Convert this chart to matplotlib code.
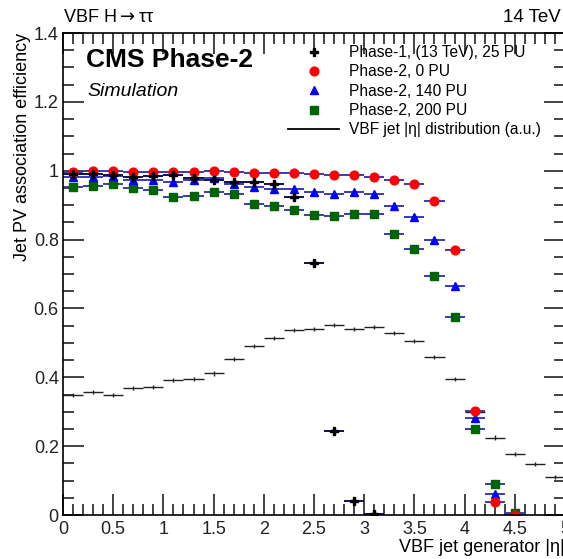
import numpy as np
import matplotlib
matplotlib.use('Agg')
import matplotlib.pyplot as plt
from matplotlib.lines import Line2D
from matplotlib.ticker import MultipleLocator

plt.rcParams['font.family'] = ['Liberation Sans', 'DejaVu Sans']
plt.rcParams['mathtext.fontset'] = 'dejavusans'

# bin centres in |eta| (bin width 0.2)
eta_p1 = [0.1, 0.3, 0.5, 0.7, 0.9, 1.1, 1.3, 1.5, 1.7, 1.9, 2.1, 2.3, 2.5, 2.7, 2.9, 3.1]
eff_p1 = [0.990, 0.990, 0.989, 0.982, 0.984, 0.987, 0.979, 0.974, 0.968, 0.968, 0.962, 0.925,
          0.732, 0.245, 0.041, 0.002]

eta_p2 = [0.1, 0.3, 0.5, 0.7, 0.9, 1.1, 1.3, 1.5, 1.7, 1.9, 2.1, 2.3, 2.5, 2.7, 2.9, 3.1,
          3.3, 3.5, 3.7, 3.9, 4.1, 4.3, 4.5]
eff_0pu = [0.995, 1.000, 1.000, 0.995, 0.995, 0.995, 0.996, 0.998, 0.995, 0.993, 0.993, 0.993,
           0.991, 0.988, 0.988, 0.983, 0.974, 0.960, 0.911, 0.770, 0.302, 0.038, 0.0]
eff_140pu = [0.982, 0.983, 0.985, 0.974, 0.974, 0.968, 0.974, 0.980, 0.960, 0.953, 0.947, 0.948,
             0.937, 0.933, 0.937, 0.933, 0.898, 0.867, 0.799, 0.666, 0.281, 0.060, 0.0]
eff_200pu = [0.954, 0.956, 0.960, 0.951, 0.943, 0.925, 0.927, 0.937, 0.933, 0.902, 0.898, 0.887,
             0.872, 0.869, 0.875, 0.875, 0.817, 0.773, 0.693, 0.575, 0.251, 0.089, 0.005]

eta_dist = [0.1, 0.3, 0.5, 0.7, 0.9, 1.1, 1.3, 1.5, 1.7, 1.9, 2.1, 2.3, 2.5, 2.7, 2.9, 3.1,
            3.3, 3.5, 3.7, 3.9, 4.1, 4.3, 4.5, 4.7, 4.9]
dist = [0.349, 0.357, 0.349, 0.369, 0.373, 0.392, 0.395, 0.411, 0.453, 0.490, 0.514, 0.537,
        0.540, 0.552, 0.540, 0.547, 0.528, 0.505, 0.460, 0.395, 0.298, 0.225, 0.178, 0.147, 0.111]

BAR_BLUE = '#3a3ab4'
MS = 6.3

fig = plt.figure(figsize=(5.63, 5.59), dpi=100)
ax = fig.add_axes([63 / 563, 44 / 559, 502 / 563, 482 / 559])

# distribution histogram
ax.errorbar(eta_dist, dist, xerr=0.1, yerr=0.006, fmt='none', ecolor='#222222', elinewidth=1.0)

ax.errorbar(eta_p2, eff_200pu, xerr=0.1, yerr=0.008, fmt='s', color='#006400', ms=MS,
            ecolor=BAR_BLUE, elinewidth=1.4)
ax.errorbar(eta_p2, eff_140pu, xerr=0.1, yerr=0.008, fmt='^', color='#0000ff', ms=MS,
            ecolor=BAR_BLUE, elinewidth=1.4)
ax.errorbar(eta_p2, eff_0pu, xerr=0.1, yerr=0.006, fmt='o', color='#ff0000', ms=MS,
            ecolor=BAR_BLUE, elinewidth=1.4)
ax.errorbar(eta_p1, eff_p1, xerr=0.1, yerr=0.008, fmt='P', color='black', ms=5.5,
            ecolor='#101050', elinewidth=1.4)

ax.set_xlim(0, 5)
ax.set_ylim(0, 1.4)
ax.xaxis.set_minor_locator(MultipleLocator(0.1))
ax.yaxis.set_minor_locator(MultipleLocator(0.05))
ax.set_xticks(np.arange(0, 5.01, 0.5))
ax.set_xticklabels(['0', '0.5', '1', '1.5', '2', '2.5', '3', '3.5', '4', '4.5', '5'])
ax.set_yticks(np.arange(0, 1.41, 0.2))
ax.set_yticklabels(['0', '0.2', '0.4', '0.6', '0.8', '1', '1.2', '1.4'])
ax.tick_params(which='both', direction='in', top=True, right=True, labelsize=13, width=1.2,
               colors='#222222')
ax.tick_params(which='major', length=15)
ax.tick_params(which='minor', length=8)
ax.tick_params(axis='x', pad=4)
ax.tick_params(axis='y', pad=3)
for s in ax.spines.values():
    s.set_linewidth(1.2)

ax.set_xlabel('VBF jet generator |η|', fontsize=13, loc='right', labelpad=1)
ax.set_ylabel('Jet PV association efficiency', fontsize=13, loc='top', labelpad=2)

fig.text(63 / 563, 1 - 18 / 559, r'VBF H$\rightarrow$ττ', fontsize=13, va='center', ha='left')
fig.text(503 / 563, 1 - 18 / 559, '14 TeV', fontsize=13.5, va='center', ha='left')
fig.text(86 / 563, 1 - 60 / 559, 'CMS Phase-2', fontsize=19, fontweight='bold', va='center')
fig.text(87 / 563, 1 - 91 / 559, 'Simulation', fontsize=14, style='italic', va='center')

handles = [
    Line2D([], [], marker='P', color='black', ls='none', ms=5.5),
    Line2D([], [], marker='o', color='#ff0000', ls='none', ms=MS),
    Line2D([], [], marker='^', color='#0000ff', ls='none', ms=MS),
    Line2D([], [], marker='s', color='#006400', ls='none', ms=MS),
    Line2D([], [], color='black', lw=1.3),
]
labels = ['Phase-1, (13 TeV), 25 PU', 'Phase-2, 0 PU', 'Phase-2, 140 PU', 'Phase-2, 200 PU',
          'VBF jet |η| distribution (a.u.)']
fig.legend(handles, labels, loc='upper left', bbox_to_anchor=(288 / 563, 1 - 45 / 559),
           frameon=False, fontsize=11.2, handlelength=3.3, handletextpad=0.6,
           labelspacing=0.28, borderpad=0, borderaxespad=0)

fig.savefig('out.png', dpi=100)
